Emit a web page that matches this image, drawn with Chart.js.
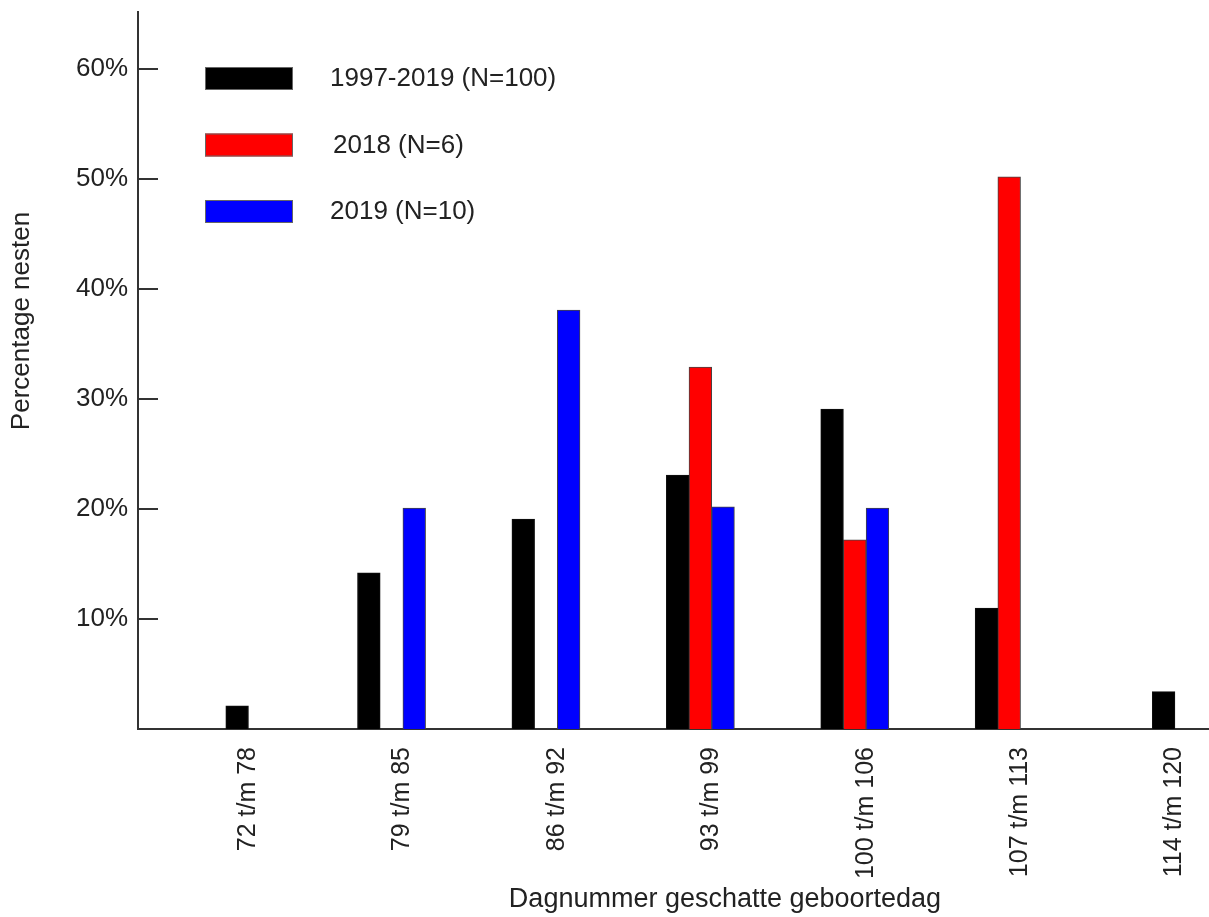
<!DOCTYPE html>
<html>
<head>
<meta charset="utf-8">
<script src="https://cdn.jsdelivr.net/npm/chart.js@4.4.1/dist/chart.umd.min.js"></script>
<style>
html,body{margin:0;padding:0;background:#fff;overflow:hidden}
#wrap{width:1209px;height:917px;position:relative}
</style>
</head>
<body>
<div id="wrap"><canvas id="c" width="1209" height="917"></canvas></div>
<script>
// ---- data ----
const categories = ['72 t/m 78','79 t/m 85','86 t/m 92','93 t/m 99','100 t/m 106','107 t/m 113','114 t/m 120'];
const seriesNames = ['1997-2019 (N=100)','2018 (N=6)','2019 (N=10)'];
const seriesColors = ['#000000','#ff0000','#0000ff'];
const allYears = [2.1, 14.2, 19.1, 23.1, 29.1, 11, 3.4];
const year2018 = [null, 0, 0, 32.9, 17.2, 50.2, null];
const year2019 = [null, 20.1, 38.1, 20.2, 20.1, 0, null];
const yTicks = [10, 20, 30, 40, 50, 60];
const xTitle = 'Dagnummer geschatte geboortedag';
const yTitle = 'Percentage nesten';

const FONT = "'Liberation Sans', Arial, sans-serif";
const toPts = arr => arr.map((v, i) => ({x: i + 1, y: v}));

const decorPlugin = {
  id: 'decor',
  afterDraw(chart) {
    const {ctx, chartArea, scales} = chart;
    ctx.save();
    // inward tick marks on y axis
    ctx.strokeStyle = '#333';
    ctx.lineWidth = 2;
    yTicks.forEach(v => {
      const y = Math.round(scales.y.getPixelForValue(v));
      ctx.beginPath();
      ctx.moveTo(chartArea.left, y);
      ctx.lineTo(chartArea.left + 20, y);
      ctx.stroke();
    });
    // legend
    ctx.font = '26px ' + FONT;
    ctx.textBaseline = 'middle';
    ctx.textAlign = 'left';
    chart.data.datasets.forEach((ds, i) => {
      const rx = chartArea.left + 67;
      const ry = chartArea.top + 55 + i * 66.5;
      ctx.fillStyle = seriesColors[i];
      ctx.fillRect(rx, ry, 88, 23);
      ctx.strokeStyle = '#666';
      ctx.lineWidth = 1;
      ctx.strokeRect(rx + 0.5, ry + 0.5, 87, 22);
      ctx.fillStyle = '#222';
      ctx.fillText(ds.label, chartArea.left + 192 + (i === 1 ? 3 : 0), ry + 12);
    });
    // axis titles
    ctx.fillStyle = '#222';
    ctx.textAlign = 'center';
    ctx.font = '27px ' + FONT;
    ctx.fillText(xTitle, 725, 900);
    ctx.save();
    ctx.translate(22, 321);
    ctx.rotate(-Math.PI / 2);
    ctx.font = '26px ' + FONT;
    ctx.fillText(yTitle, 0, 0);
    ctx.restore();
    ctx.restore();
  }
};

const hasValue = c => !!(c.raw && c.raw.y);
const barBorder = c => hasValue(c) ? 1 : 0;
const barFill = i => c => hasValue(c) ? seriesColors[i] : 'rgba(0,0,0,0)';

new Chart(document.getElementById('c'), {
  type: 'bar',
  data: {
    datasets: [
      {label: seriesNames[0], data: toPts(allYears), backgroundColor: barFill(0), borderColor: '#111', borderWidth: barBorder},
      {label: seriesNames[1], data: toPts(year2018), backgroundColor: barFill(1), borderColor: '#444', borderWidth: barBorder},
      {label: seriesNames[2], data: toPts(year2019), backgroundColor: barFill(2), borderColor: '#444', borderWidth: barBorder}
    ]
  },
  options: {
    responsive: false,
    animation: false,
    devicePixelRatio: 1,
    skipNull: true,
    barThickness: 22.7,
    borderSkipped: 'start',
    layout: {padding: {top: 12, right: 0, left: 0, bottom: 0}},
    plugins: {legend: {display: false}, tooltip: {enabled: false}},
    scales: {
      x: {
        type: 'linear',
        min: 0.358,
        max: 7.294,
        offset: false,
        grid: {display: false, drawTicks: false, offset: false},
        border: {color: '#333', width: 2},
        afterBuildTicks: s => { s.ticks = categories.map((_, i) => ({value: i + 1})); },
        afterFit: s => { s.height = 188; s.paddingLeft = 0; s.paddingRight = 0; },
        ticks: {
          autoSkip: false,
          minRotation: 90,
          maxRotation: 90,
          padding: 18,
          labelOffset: 11,
          color: '#222',
          font: {family: FONT, size: 25},
          callback: v => categories[Math.round(v) - 1]
        }
      },
      y: {
        min: 0,
        max: 65.2,
        grid: {display: false, drawTicks: false},
        border: {color: '#333', width: 2},
        afterBuildTicks: s => { s.ticks = yTicks.map(v => ({value: v})); },
        afterFit: s => { s.width = 138; s.paddingTop = 0; s.paddingBottom = 0; },
        ticks: {
          padding: 10,
          color: '#222',
          font: {family: FONT, size: 26},
          callback: v => v + '%'
        }
      }
    }
  },
  plugins: [decorPlugin]
});
</script>
</body>
</html>
